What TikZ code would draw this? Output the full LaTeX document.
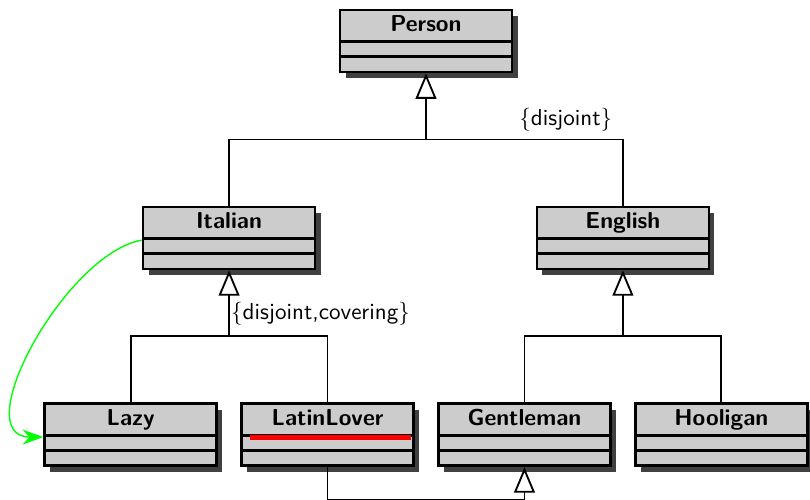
\documentclass[tikz,border=0pt]{standalone}
\usepackage{amssymb,amsmath}
\usepackage{tikz}
\usetikzlibrary{arrows.meta,calc,positioning,shadows}
\tikzset{
umlclass/.style={draw,very thick,fill=gray!40,minimum width=2.62cm,
  font=\sffamily\bfseries,text height=6.1pt,text depth=14.13pt,inner ysep=3.33pt,
  drop shadow={shadow xshift=2.4pt,shadow yshift=-2.8pt,fill=black!75,opacity=1},
  path picture={
    \draw[very thick] ([yshift=-13.57pt]path picture bounding box.north west) -- ([yshift=-13.57pt]path picture bounding box.north east)
    ([yshift=-20.24pt]path picture bounding box.north west) -- ([yshift=-20.24pt]path picture bounding box.north east);}},
isa/.style={thick,-{Triangle[length=11pt,width=9pt,fill=white]}}
}

\begin{document}
\begin{tikzpicture}[font=\sffamily]
\useasboundingbox (-6.49,0.625) rectangle (5.85,-6.98);
\node[umlclass] (P) at (0,0) {Person};
\node[umlclass] (It) at (-3,-3) {Italian};
\node[umlclass] (En) at (3,-3) {English};
\node[umlclass] (La) at (-4.5,-6) {Lazy};
\node[umlclass] (LL) at (-1.5,-6) {LatinLover};
\node[umlclass] (Ge) at (1.5,-6) {Gentleman};
\node[umlclass] (Ho) at (4.5,-6) {Hooligan};
\coordinate (s1) at (0,-1.5);
\coordinate (s2) at (-3,-4.5);
\coordinate (s3) at (3,-4.5);
\draw[thick] (It.north) |- (s1) -| node[pos=0.355,above]{\{disjoint\}} (En.north);
\draw[isa] (s1) -- (P.south);
\draw[thick] (La.north) |- (s2) -| (LL.north);
\draw[isa] (s2) -- node[pos=0.34,right,inner sep=0.5pt]{\{disjoint,covering\}} (It.south);
\draw[thick] (Ge.north) |- (s3) -| (Ho.north);
\draw[isa] (s3) -- (En.south);
\draw[isa] (LL.south) -- ++(0,-0.5) -| (Ge.south);
\draw[red,line width=2.2pt] ([xshift=0.15cm,yshift=-15pt]LL.north west) -- ([xshift=-0.06cm,yshift=-15pt]LL.north east);
\draw[green,semithick,-{Stealth[length=9pt,width=6.5pt,inset=3pt]}] ([yshift=-15pt]It.north west) to[out=190,in=180,looseness=0.9] ([yshift=-15pt]La.north west);
\end{tikzpicture}
\end{document}
